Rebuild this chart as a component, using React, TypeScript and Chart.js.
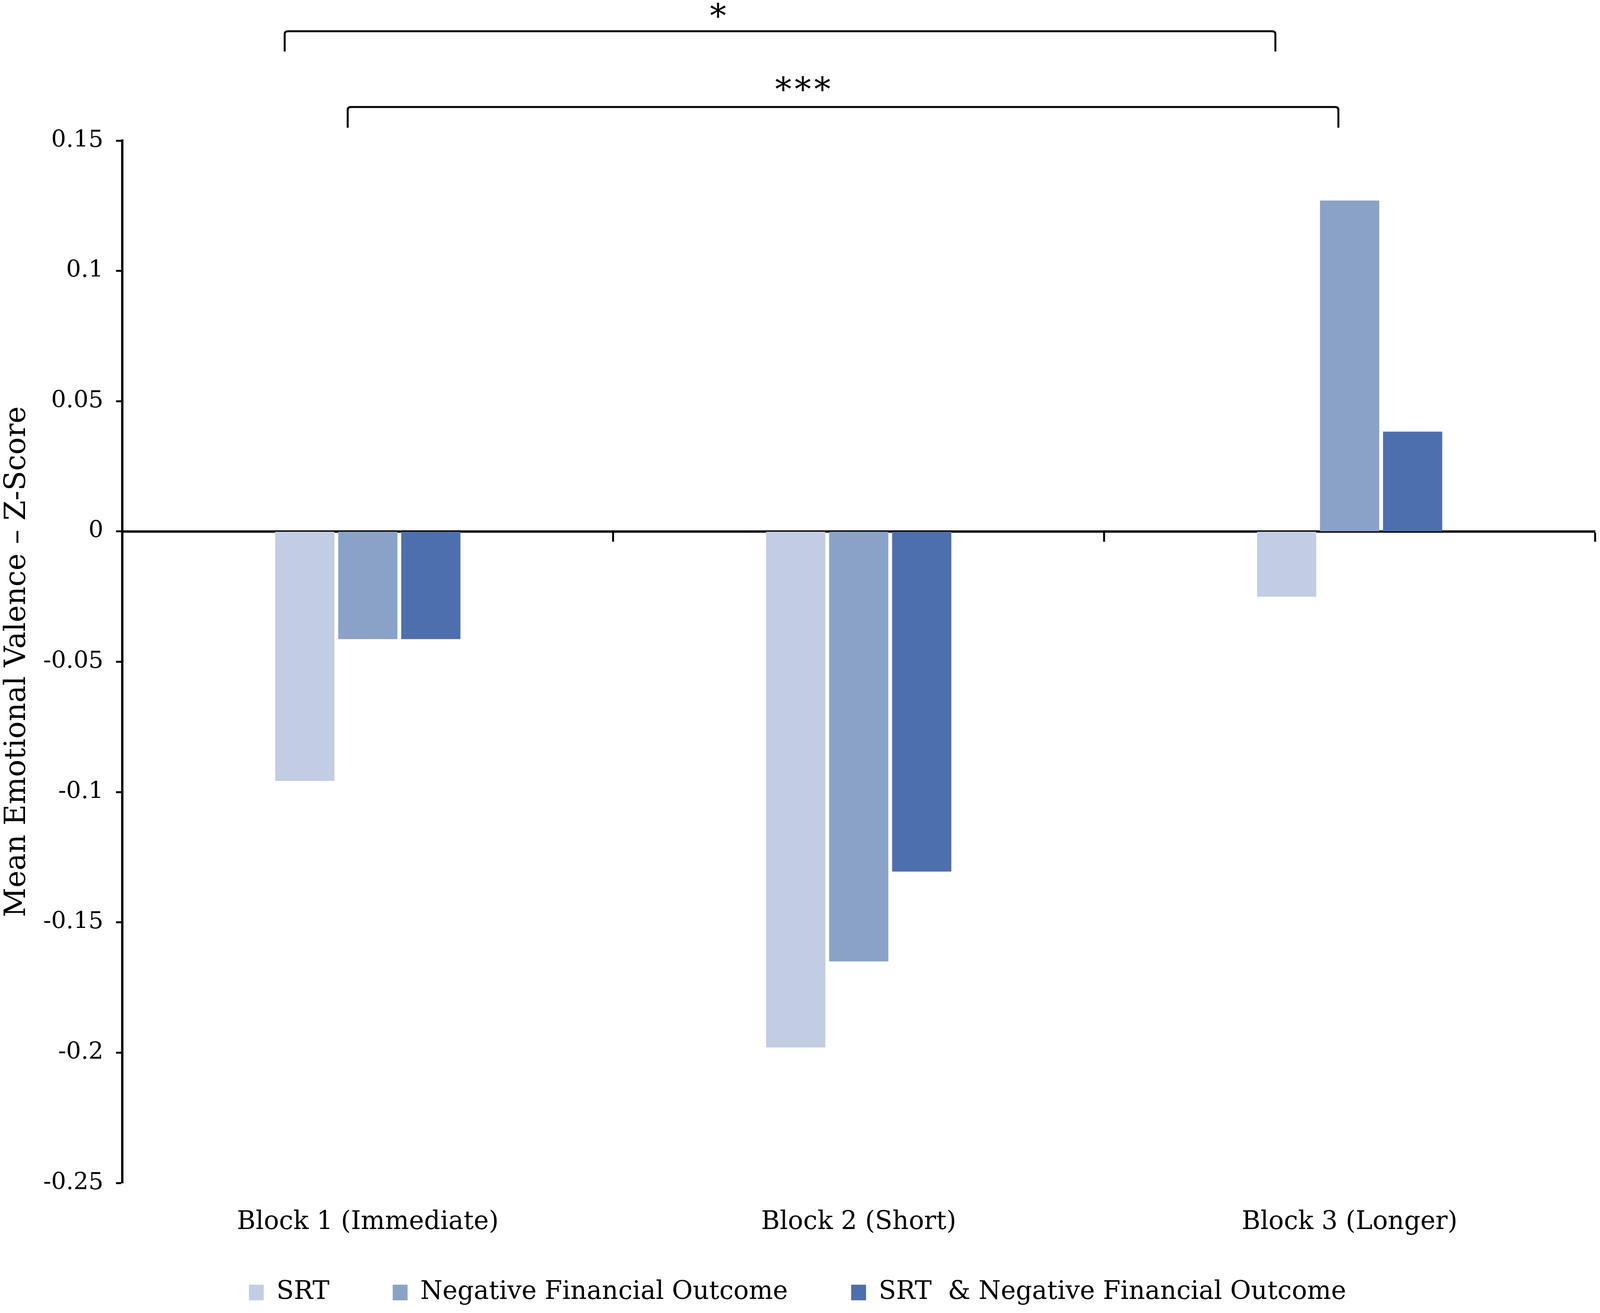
import { useEffect, useRef } from "react";
import { Chart, registerables } from "chart.js";

Chart.register(...registerables);

const blocks = ["Block 1 (Immediate)", "Block 2 (Short)", "Block 3 (Longer)"];
const srt = [-0.0957, -0.198, -0.025];
const negFinancial = [-0.0413, -0.165, 0.127];
const srtAndNeg = [-0.0413, -0.1305, 0.0383];
const seriesNames = ["SRT", "Negative Financial Outcome", "SRT  & Negative Financial Outcome"];
const seriesColors = ["#C2CDE4", "#8AA2C8", "#4E6FAD"];
const yTicks = { min: -0.25, max: 0.15, step: 0.05 };

// significance brackets: [dataset index, from category, to category, label]
const brackets: [number, number, number, string][] = [
  [0, 0, 2, "*"],
  [1, 0, 2, "***"],
];

const FONT = "'DejaVu Serif', 'Liberation Serif', serif";

const bracketPlugin = {
  id: "brackets",
  afterDraw(chart: any) {
    const ctx = chart.ctx;
    const tops = [80, 274];
    const drops = [52, 53];
    const starFrac = [0.439, 0.461];
    const starBase = [70, 258];
    brackets.forEach(([ds, from, to, label], i) => {
      const meta = chart.getDatasetMeta(ds);
      const a = meta.data[from];
      const b = meta.data[to];
      const w = a.width;
      const x1 = a.x - 0.34 * w;
      const x2 = b.x - 0.19 * w;
      const y = tops[i];
      const r = 8;
      ctx.save();
      ctx.strokeStyle = "#000";
      ctx.lineWidth = 5;
      ctx.beginPath();
      ctx.moveTo(x1, y + drops[i]);
      ctx.lineTo(x1, y + r);
      ctx.quadraticCurveTo(x1, y, x1 + r, y);
      ctx.lineTo(x2 - r, y);
      ctx.quadraticCurveTo(x2, y, x2, y + r);
      ctx.lineTo(x2, y + drops[i]);
      ctx.stroke();
      ctx.fillStyle = "#000";
      ctx.font = `84px ${FONT}`;
      ctx.textAlign = "center";
      ctx.textBaseline = "alphabetic";
      (ctx as any).letterSpacing = "8px";
      ctx.fillText(label, x1 + (x2 - x1) * starFrac[i], starBase[i]);
      ctx.restore();
    });
  },
};

export default function App() {
  const canvasRef = useRef<HTMLCanvasElement | null>(null);

  useEffect(() => {
    document.body.style.margin = "0";
    document.body.style.overflow = "hidden";
    const canvas = canvasRef.current;
    if (!canvas) return;
    const W = canvas.parentElement?.clientWidth || 4550;
    const k = W / 4550;
    const chart = new Chart(canvas, {
      type: "bar",
      data: {
        labels: blocks,
        datasets: [srt, negFinancial, srtAndNeg].map((d, i) => ({
          label: seriesNames[i],
          data: d,
          backgroundColor: seriesColors[i],
          borderWidth: 0,
          categoryPercentage: 0.385,
          barPercentage: 0.94,
        })),
      },
      options: {
        animation: false,
        responsive: true,
        maintainAspectRatio: false,
        devicePixelRatio: 1,
        layout: { padding: { top: 360, left: 0, right: 14 * k, bottom: 10 } },
        plugins: {
          tooltip: { enabled: false },
          legend: {
            position: "bottom",
            labels: {
              font: { family: FONT, size: 65 },
              color: "#000",
              boxWidth: 38,
              boxHeight: 40,
              padding: 162,
            },
          },
        },
        scales: {
          x: {
            grid: { display: false, drawTicks: false },
            border: { display: false },
            ticks: {
              font: { family: FONT, size: 65 },
              color: "#000",
              mirror: true,
              padding: -140,
              maxRotation: 0,
            },
            afterFit(scale: any) {
              scale.height = 86;
            },
          },
          x2: {
            type: "category",
            labels: blocks,
            position: { y: 0 } as any,
            offset: true,
            grid: {
              offset: true,
              drawOnChartArea: false,
              drawTicks: true,
              tickLength: 23,
              tickColor: "#000",
              tickWidth: 5,
            },
            border: { display: true, color: "#000", width: 6 },
            ticks: { display: false },
          },
          y: {
            min: yTicks.min,
            max: yTicks.max,
            ticks: {
              stepSize: yTicks.step,
              font: { family: FONT, size: 60 },
              color: "#000",
              padding: 36 * k,
              callback: (v: any) => parseFloat(Number(v).toFixed(2)).toString(),
            },
            grid: {
              drawOnChartArea: false,
              drawTicks: true,
              tickLength: 18 * k,
              tickColor: "#000",
              tickWidth: 5,
            },
            border: { display: true, color: "#000", width: 6 },
            title: {
              display: true,
              text: "Mean Emotional Valence – Z-Score",
              font: { family: FONT, size: 74 },
              color: "#000",
              padding: { top: 0, bottom: 0 },
            },
            afterFit(scale: any) {
              scale.width = 348 * k;
            },
          },
        },
      },
      plugins: [bracketPlugin],
    });
    return () => chart.destroy();
  }, []);

  return (
    <div style={{ position: "relative", width: "100vw", height: "100vh", background: "#fff" }}>
      <canvas ref={canvasRef} />
    </div>
  );
}
